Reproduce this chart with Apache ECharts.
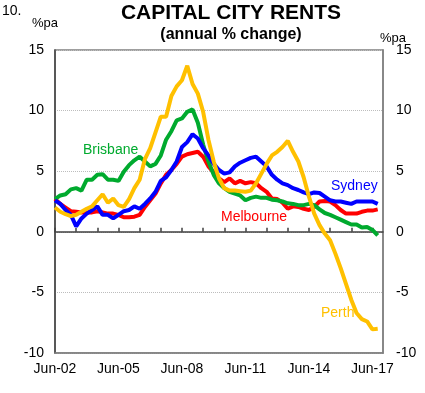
<!DOCTYPE html>
<html><head><meta charset="utf-8">
<script src="https://cdn.jsdelivr.net/npm/echarts@6/dist/echarts.min.js"></script>
<style>html,body{margin:0;padding:0;background:#fff}#c{width:425px;height:393px}</style>
</head><body><div id="c"></div>
<script>
const categories = [
 'Jun-02','Sep-02','Dec-02','Mar-03','Jun-03','Sep-03','Dec-03','Mar-04','Jun-04','Sep-04','Dec-04','Mar-05',
 'Jun-05','Sep-05','Dec-05','Mar-06','Jun-06','Sep-06','Dec-06','Mar-07','Jun-07','Sep-07','Dec-07','Mar-08',
 'Jun-08','Sep-08','Dec-08','Mar-09','Jun-09','Sep-09','Dec-09','Mar-10','Jun-10','Sep-10','Dec-10','Mar-11',
 'Jun-11','Sep-11','Dec-11','Mar-12','Jun-12','Sep-12','Dec-12','Mar-13','Jun-13','Sep-13','Dec-13','Mar-14',
 'Jun-14','Sep-14','Dec-14','Mar-15','Jun-15','Sep-15','Dec-15','Mar-16','Jun-16','Sep-16','Dec-16','Mar-17',
 'Jun-17','Sep-17','Dec-17'
];
const sydney = [2.6,2.3,1.8,1.4,0.45,1.1,1.5,1.8,2.1,1.4,1.4,1.1,
 1.4,1.7,1.8,2.1,1.9,2.3,2.75,3.3,4.2,4.5,5.1,5.8,
 7.0,7.4,8.05,7.7,6.9,6.3,5.6,5.1,4.8,4.9,5.4,5.7,
 5.9,6.1,6.2,5.8,5.4,4.7,4.3,4.0,3.85,3.6,3.45,3.25,
 3.1,3.25,3.2,2.9,2.6,2.5,2.5,2.4,2.3,2.5,2.5,2.5,
 2.5,2.3];
const melbourne = [2.7,2.3,2.0,1.7,1.65,1.6,1.6,1.6,1.7,1.6,1.5,1.5,
 1.4,1.2,1.2,1.25,1.4,2.05,2.6,3.15,4.0,4.7,5.1,5.6,
 6.2,6.4,6.5,6.6,6.2,5.4,4.9,4.4,4.1,4.4,4.0,4.2,
 4.0,4.1,4.0,3.6,3.3,2.75,2.7,2.4,1.9,2.1,2.05,1.9,
 1.8,2.05,2.5,2.55,2.5,2.2,1.8,1.5,1.5,1.5,1.65,1.75,
 1.75,1.85];
const brisbane = [2.7,3.0,3.1,3.5,3.6,3.4,4.3,4.3,4.7,4.75,4.3,4.3,
 4.2,4.95,5.5,5.9,6.2,5.8,5.4,5.6,6.3,7.6,8.3,9.2,
 9.35,9.9,10.1,9.0,7.2,5.8,4.7,4.0,3.6,3.3,3.15,3.0,
 2.6,2.8,2.9,2.8,2.8,2.65,2.6,2.5,2.35,2.3,2.2,2.2,
 2.3,2.2,1.85,1.55,1.4,1.2,1.0,0.8,0.6,0.6,0.35,0.4,
 0.15,-0.3];
const perth = [2.0,1.65,1.45,1.3,1.4,1.65,1.9,2.1,2.6,3.1,2.4,2.75,
 2.2,2.05,2.7,3.6,4.3,6.0,6.9,8.2,9.5,9.5,11.2,12.0,
 12.5,13.7,12.2,11.4,9.9,7.6,5.8,4.4,3.6,3.4,3.4,3.35,
 3.3,3.4,4.0,4.8,5.6,6.3,6.6,7.0,7.5,6.6,5.8,4.5,
 2.9,1.5,0.55,-0.15,-0.7,-1.8,-3.0,-4.3,-5.6,-6.7,-7.2,-7.4,
 -8.05,-8.0];
const yMin = -10, yMax = 15, yStep = 5;

const FONT = '"Liberation Sans", Arial, sans-serif';
const C_SYD = '#0000ff', C_MEL = '#ff0000', C_BRI = '#00aa2e', C_PER = '#ffc000';

function txt(text, left, top, size, color, bold, align) {
  const t = {text: text, left: left, top: top, padding: 0, itemGap: 0,
    textStyle: {fontFamily: FONT, fontSize: size, color: color, fontWeight: bold ? 'bold' : 'normal', lineHeight: size + 2}};
  if (align) t.textAlign = align;
  return t;
}

const chart = echarts.init(document.getElementById('c'), null, {renderer: 'canvas'});
const lineSeries = (name, data, color) => ({
  name: name, type: 'line', data: data, xAxisIndex: 0, yAxisIndex: 0,
  symbol: 'none', smooth: false, lineStyle: {color: color, width: 4}, itemStyle: {color: color}
});
chart.setOption({
  animation: false,
  title: [
    txt('CAPITAL CITY RENTS', 231, 2, 21, '#000', true, 'center'),
    txt('(annual % change)', 231, 26, 16, '#000', true, 'center'),
    txt('10.', 2, 3, 14, '#000', false),
    txt('%pa', 32, 16, 13, '#000', false),
    txt('%pa', 380, 31, 13, '#000', false),
    txt('Brisbane', 83, 142, 14, C_BRI, false),
    txt('Sydney', 331, 178, 14, C_SYD, false),
    txt('Melbourne', 221, 209, 14, C_MEL, false),
    txt('Perth', 321, 305, 14, C_PER, false)
  ],
  grid: {left: 55, right: 42, top: 50, bottom: 40, show: true, borderColor: '#808080', borderWidth: 1.5, containLabel: false},
  xAxis: [
    {type: 'category', data: categories, boundaryGap: false, position: 'bottom',
     axisLine: {onZero: true, lineStyle: {color: '#404040', width: 1.5}},
     axisTick: {show: true, inside: true, length: 4, interval: (i) => i % 4 === 0, lineStyle: {color: '#404040', width: 1.5}},
     axisLabel: {show: false}, splitLine: {show: false}},
    {type: 'category', data: categories, boundaryGap: false, position: 'bottom',
     axisLine: {onZero: false, show: true, lineStyle: {color: '#808080', width: 1.5}},
     axisTick: {show: false},
     axisLabel: {interval: (i) => i % 12 === 0, margin: 9, fontSize: 14, color: '#000', fontFamily: FONT},
     splitLine: {show: false}}
  ],
  yAxis: [
    {type: 'value', min: yMin, max: yMax, interval: yStep, position: 'left',
     axisLine: {show: true, onZero: false, lineStyle: {color: '#404040', width: 1.5}},
     axisTick: {show: false},
     axisLabel: {margin: 11, fontSize: 14, color: '#000', fontFamily: FONT},
     splitLine: {show: true, lineStyle: {type: 'dotted', color: '#bdbdbd', width: 1}}},
    {type: 'value', min: yMin, max: yMax, interval: yStep, position: 'right',
     axisLine: {show: true, onZero: false, lineStyle: {color: '#808080', width: 1.5}},
     axisTick: {show: false},
     axisLabel: {margin: 13, fontSize: 14, color: '#000', fontFamily: FONT},
     splitLine: {show: false}}
  ],
  series: [
    lineSeries('Melbourne', melbourne, C_MEL),
    lineSeries('Brisbane', brisbane, C_BRI),
    lineSeries('Sydney', sydney, C_SYD),
    lineSeries('Perth', perth, C_PER)
  ]
});
</script></body></html>
